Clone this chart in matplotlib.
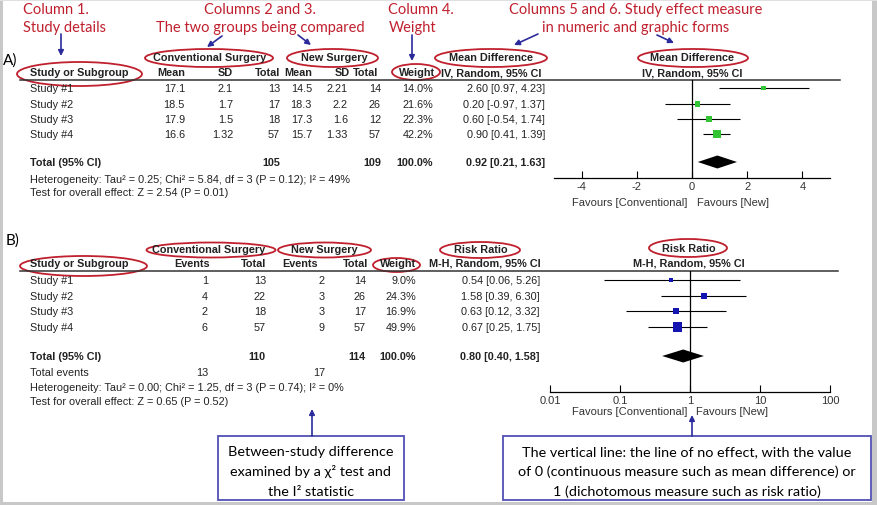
import matplotlib
matplotlib.use("Agg")
import matplotlib.pyplot as plt
from matplotlib.patches import Ellipse, Rectangle

# ---- data ----
studies = ["Study #1", "Study #2", "Study #3", "Study #4"]

a_conv_mean = [17.1, 18.5, 17.9, 16.6]
a_conv_sd = [2.1, 1.7, 1.5, 1.32]
a_conv_n = [13, 17, 18, 57]
a_new_mean = [14.5, 18.3, 17.3, 15.7]
a_new_sd = [2.21, 2.2, 1.6, 1.33]
a_new_n = [14, 26, 12, 57]
a_weight = [14.0, 21.6, 22.3, 42.2]
a_md = [2.60, 0.20, 0.60, 0.90]
a_lo = [0.97, -0.97, -0.54, 0.41]
a_hi = [4.23, 1.37, 1.74, 1.39]
a_total = [0.92, 0.21, 1.63]
a_total_n = [105, 109]
a_ticks = [-4, -2, 0, 2, 4]

b_conv_ev = [1, 4, 2, 6]
b_conv_n = [13, 22, 18, 57]
b_new_ev = [2, 3, 3, 9]
b_new_n = [14, 26, 17, 57]
b_weight = [9.0, 24.3, 16.9, 49.9]
b_rr = [0.54, 1.58, 0.63, 0.67]
b_lo = [0.06, 0.39, 0.12, 0.25]
b_hi = [5.26, 6.30, 3.32, 1.75]
b_total = [0.80, 0.40, 1.58]
b_total_n = [110, 114]
b_total_ev = [13, 17]
b_ticks = [0.01, 0.1, 1, 10, 100]
b_ticklabels = ["0.01", "0.1", "1", "10", "100"]

a_het = "Heterogeneity: Tau\u00b2 = 0.25; Chi\u00b2 = 5.84, df = 3 (P = 0.12); I\u00b2 = 49%"
a_test = "Test for overall effect: Z = 2.54 (P = 0.01)"
b_het = "Heterogeneity: Tau\u00b2 = 0.00; Chi\u00b2 = 1.25, df = 3 (P = 0.74); I\u00b2 = 0%"
b_test = "Test for overall effect: Z = 0.65 (P = 0.52)"

W, H = 878, 506
fig = plt.figure(figsize=(W / 100, H / 100), dpi=100)
ax = fig.add_axes([0, 0, 1, 1])
ax.set_xlim(0, W)
ax.set_ylim(H, 0)
ax.axis("off")

TF = "Liberation Sans"
AF = ["Lato", "DejaVu Sans"]
FS = 7.8
TC = "#222222"
RED = "#c0202e"
NAVY = "#2b2b9c"

# grey frame
ax.add_patch(Rectangle((0, 0), 3, H, color="#c8c8c8", lw=0))
ax.add_patch(Rectangle((872, 0), 6, H, color="#c8c8c8", lw=0))
ax.add_patch(Rectangle((0, 503), W, 3, color="#c8c8c8", lw=0))
ax.add_patch(Rectangle((0, 0), W, 1.5, color="#e0e0e0", lw=0))


def t(x, y, s, ha="left", bold=False, **kw):
    ax.text(x, y, s, ha=ha, va="center", fontsize=FS, family=TF, color=TC,
            fontweight="bold" if bold else "normal", **kw)


def ell(cx, cy, w, h):
    ax.add_patch(Ellipse((cx, cy), w, h, fill=False, ec=RED, lw=1.3))


def arrow(x0, y0, x1, y1):
    ax.annotate("", xy=(x1, y1), xytext=(x0, y0),
                arrowprops=dict(arrowstyle="-|>", color=NAVY, lw=1.2,
                                mutation_scale=8, shrinkA=0, shrinkB=0))


def px_axes(x0, y0, x1, y1):
    a = fig.add_axes([x0 / W, 1 - y1 / H, (x1 - x0) / W, (y1 - y0) / H])
    a.set_ylim(y1, y0)
    a.patch.set_alpha(0)
    for s in ["top", "left", "right"]:
        a.spines[s].set_visible(False)
    a.spines["bottom"].set_linewidth(0.9)
    a.set_yticks([])
    a.tick_params(axis="x", direction="in", length=5, width=0.8, pad=2,
                  labelsize=8, labelcolor="#333333")
    return a


# ---- red annotations ----
def red(x, y, s, ha="left"):
    ax.text(x, y, s, ha=ha, va="center", fontsize=10.5, family=AF, color=RED)


red(23, 10, "Column 1.")
red(23, 28, "Study details")
arrow(61, 35, 61, 57)
red(260, 10, "Columns 2 and 3.", ha="center")
red(260, 28, "The two groups being compared", ha="center")
arrow(222, 37, 207, 48)
arrow(298, 36, 311, 46)
red(388, 10, "Column 4.")
red(389, 28, "Weight")
arrow(412, 36, 412, 62)
red(636, 10, "Columns 5 and 6. Study effect measure", ha="center")
red(636, 28, "in numeric and graphic forms", ha="center")
arrow(538, 35, 514, 46)
arrow(657, 36, 674, 44)

# ---- panel A table ----
ax.text(3, 61, "A)", ha="left", va="center", fontsize=11, family=AF, color="black")
ya = [89, 105, 120, 135]
t(210, 58, "Conventional Surgery", ha="center", bold=True)
t(334, 58, "New Surgery", ha="center", bold=True)
t(491, 58, "Mean Difference", ha="center", bold=True)
t(692, 58, "Mean Difference", ha="center", bold=True)
t(30, 73, "Study or Subgroup", bold=True)
for x, s in [(185, "Mean"), (233, "SD"), (280, "Total"), (312, "Mean"),
             (350, "SD"), (378, "Total"), (435, "Weight")]:
    t(x, 73, s, ha="right", bold=True)
t(491, 73, "IV, Random, 95% CI", ha="center", bold=True)
t(692, 73, "IV, Random, 95% CI", ha="center", bold=True)
ax.plot([20, 840], [81, 81], color="#333333", lw=1.1)

for i, name in enumerate(studies):
    y = ya[i]
    t(30, y, name)
    t(185, y, str(a_conv_mean[i]), ha="right")
    t(233, y, str(a_conv_sd[i]), ha="right")
    t(280, y, str(a_conv_n[i]), ha="right")
    t(312, y, str(a_new_mean[i]), ha="right")
    t(348, y, str(a_new_sd[i]), ha="right")
    t(381, y, str(a_new_n[i]), ha="right")
    t(433, y, f"{a_weight[i]:.1f}%", ha="right")
    t(545, y, f"{a_md[i]:.2f} [{a_lo[i]:.2f}, {a_hi[i]:.2f}]", ha="right")
yta = 163
t(30, yta, "Total (95% CI)", bold=True)
t(280, yta, str(a_total_n[0]), ha="right", bold=True)
t(381, yta, str(a_total_n[1]), ha="right", bold=True)
t(433, yta, "100.0%", ha="right", bold=True)
t(545, yta, f"{a_total[0]:.2f} [{a_total[1]:.2f}, {a_total[2]:.2f}]", ha="right", bold=True)
t(30, 180, a_het)
t(30, 193, a_test)

ell(79.5, 75, 125, 24)
ell(209, 59, 128, 18)
ell(332.5, 59, 91, 18)
ell(416, 73, 48, 16)
ell(491, 59, 112, 18)
ell(693, 59, 110, 18)

# ---- panel A forest ----
fa = px_axes(554, 81, 830, 179)
fa.set_xlim(-5, 5)
fa.set_xticks(a_ticks)
fa.set_xticklabels([str(v) for v in a_ticks], family=TF)
fa.axvline(0, color="black", lw=0.9)
fa.hlines(ya, a_lo, a_hi, color="black", lw=0.8)
fa.scatter(a_md, ya, s=[0.85 * w for w in a_weight], marker="s", color="#33c433", lw=0, zorder=3)
est, lo, hi = a_total
fa.fill([lo, est, hi, est], [yta, yta - 6.5, yta, yta + 6.5], color="black", lw=0)
ax.text(687, 203, "Favours [Conventional]", ha="right", va="center", fontsize=8, family=TF, color="#333333")
ax.text(697, 203, "Favours [New]", ha="left", va="center", fontsize=8, family=TF, color="#333333")

# ---- panel B table ----
ax.text(6, 241, "B)", ha="left", va="center", fontsize=11, family=AF, color="black")
yb = [281, 297, 312, 328]
t(209, 250, "Conventional Surgery", ha="center", bold=True)
t(324, 250, "New Surgery", ha="center", bold=True)
t(481, 250, "Risk Ratio", ha="center", bold=True)
t(689, 249, "Risk Ratio", ha="center", bold=True)
t(30, 264, "Study or Subgroup", bold=True)
for x, s in [(210, "Events"), (266, "Total"), (318, "Events"), (368, "Total"), (416, "Weight")]:
    t(x, 264, s, ha="right", bold=True)
t(485, 264, "M-H, Random, 95% CI", ha="center", bold=True)
t(689, 264, "M-H, Random, 95% CI", ha="center", bold=True)
ax.plot([20, 838], [272, 272], color="#333333", lw=1.1)

for i, name in enumerate(studies):
    y = yb[i]
    t(30, y, name)
    t(208, y, str(b_conv_ev[i]), ha="right")
    t(266, y, str(b_conv_n[i]), ha="right")
    t(325, y, str(b_new_ev[i]), ha="right")
    t(366, y, str(b_new_n[i]), ha="right")
    t(416, y, f"{b_weight[i]:.1f}%", ha="right")
    t(540, y, f"{b_rr[i]:.2f} [{b_lo[i]:.2f}, {b_hi[i]:.2f}]", ha="right")
ytb = 357
t(30, ytb, "Total (95% CI)", bold=True)
t(266, ytb, str(b_total_n[0]), ha="right", bold=True)
t(366, ytb, str(b_total_n[1]), ha="right", bold=True)
t(416, ytb, "100.0%", ha="right", bold=True)
t(540, ytb, f"{b_total[0]:.2f} [{b_total[1]:.2f}, {b_total[2]:.2f}]", ha="right", bold=True)
t(30, 373, "Total events")
t(208, 373, str(b_total_ev[0]), ha="right")
t(325, 373, str(b_total_ev[1]), ha="right")
t(30, 388, b_het)
t(30, 402, b_test)

ell(83.5, 267, 127, 20)
ell(211, 251, 129, 15)
ell(324.5, 251, 93, 15)
ell(480, 251, 80, 16)
ell(396.5, 266, 47, 14)
ell(688, 249, 78, 18)

# ---- panel B forest ----
fb = px_axes(550, 272, 830, 393)
fb.set_xscale("log")
fb.set_xlim(0.01, 100)
fb.set_xticks(b_ticks)
fb.set_xticklabels(b_ticklabels, family=TF)
fb.minorticks_off()
fb.axvline(1, color="black", lw=0.9)
fb.hlines(yb, b_lo, b_hi, color="black", lw=0.8)
fb.scatter(b_rr, yb, s=[0.85 * w for w in b_weight], marker="s", color="#1414b0", lw=0, zorder=3)
est, lo, hi = b_total
fb.fill([lo, est, hi, est], [ytb, ytb - 6.5, ytb, ytb + 6.5], color="black", lw=0)
ax.text(687, 412, "Favours [Conventional]", ha="right", va="center", fontsize=8, family=TF, color="#333333")
ax.text(696, 412, "Favours [New]", ha="left", va="center", fontsize=8, family=TF, color="#333333")

# ---- explanation boxes ----
ax.add_patch(Rectangle((218, 437), 186, 64, fill=False, ec="#5050b4", lw=1.3))
ax.add_patch(Rectangle((503, 437), 368, 64, fill=False, ec="#5050b4", lw=1.3))
arrow(312, 437, 312, 410)
arrow(692, 437, 692, 416)
box_fs = 10.4
for i, s in enumerate(["Between-study difference", "examined by a \u03c7\u00b2 test and",
                       "the I\u00b2 statistic"]):
    ax.text(311, 452 + 20 * i, s, ha="center", va="center", fontsize=box_fs, family=AF, color="black")
for i, s in enumerate(["The vertical line: the line of no effect, with the value",
                       "of 0 (continuous measure such as mean difference) or",
                       "1 (dichotomous measure such as risk ratio)"]):
    ax.text(687, 452 + 20 * i, s, ha="center", va="center", fontsize=box_fs, family=AF, color="black")

fig.savefig("out.png", dpi=100)
